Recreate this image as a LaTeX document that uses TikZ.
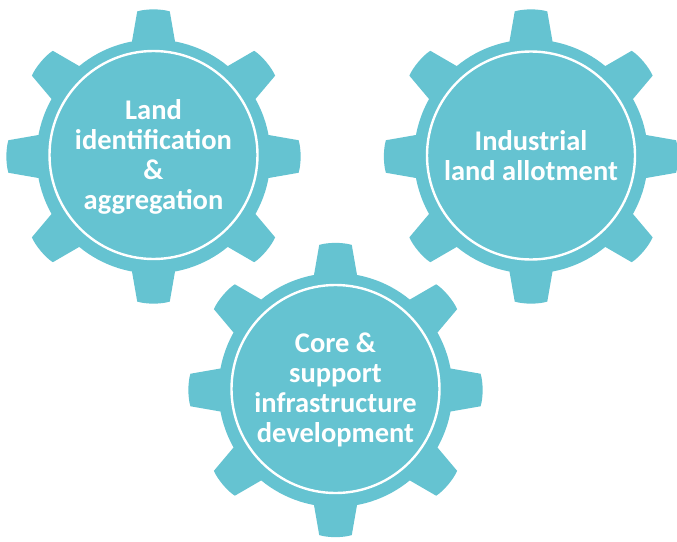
\documentclass[tikz,border=0pt]{standalone}
\usepackage{fontspec}
\setmainfont{Carlito}
\definecolor{gearteal}{HTML}{65C3D1}
\tikzset{
  x=1pt,y=1pt,
  geartext/.style={align=center,text=white,font=\fontsize{28.5}{30}\selectfont\bfseries,inner sep=0pt},
  hubring/.style={circle,draw=white,line width=2.4pt,minimum size=208pt,inner sep=0pt,fill=gearteal},
}
\newcommand{\gearbody}[2]{%
  \fill[gearteal,shift={(#1,#2)}] (0,0) circle[radius=117];
  \foreach \a in {0,40,90,140,180,220,270,320}{
    \fill[gearteal,shift={(#1,#2)},rotate=\a]
      (-10.6:110) -- (-10.6:117) -- (-6.4:146) .. controls (-3:148) and (3:148) .. (6.4:146) -- (10.6:117) -- (10.6:110) -- cycle;
  }%
}
\begin{document}
\begin{tikzpicture}
\useasboundingbox (0,0) rectangle (677,-541);
\gearbody{153.5}{-156.5}
\gearbody{531}{-156.5}
\gearbody{335.5}{-390}
\node[hubring] (hubA) at (153.5,-155) {};
\node[hubring] (hubB) at (531,-155.5) {};
\node[hubring] (hubC) at (335.5,-389) {};
\node[geartext] (textA) at (153.5,-156.5) {Land\\identification\\\&\\aggregation};
\node[geartext] (textB) at (531,-155.5) {Industrial\\land allotment};
\node[geartext] (textC) at (335.5,-390) {Core \&\\support\\infrastructure\\development};
\end{tikzpicture}
\end{document}
